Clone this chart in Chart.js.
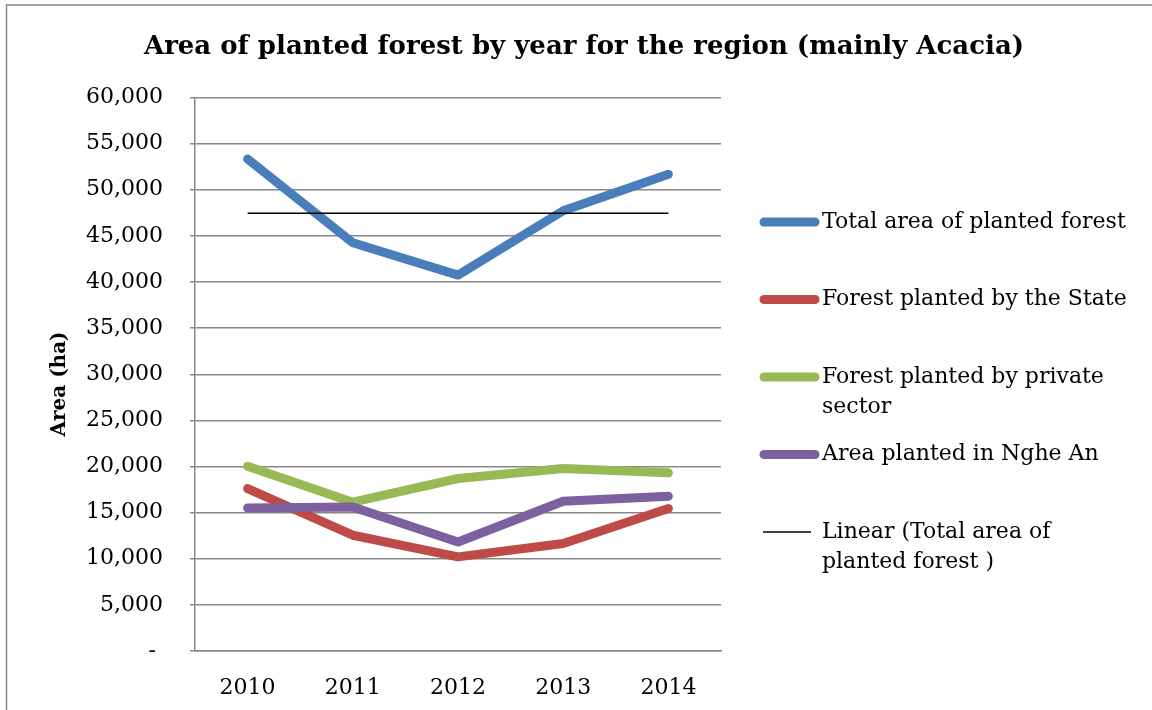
<!DOCTYPE html>
<html>
<head>
<meta charset="utf-8">
<script src="https://cdn.jsdelivr.net/npm/chart.js@4"></script>
<style>
  body { margin: 0; background: #fff; }
  canvas { display: block; }
</style>
</head>
<body>
<canvas id="forestChart" width="1152" height="710"></canvas>
<script>
// data
const years = ['2010', '2011', '2012', '2013', '2014'];
const totalArea = [53330, 44250, 40750, 47720, 51670];
const stateArea = [17610, 12550, 10200, 11650, 15450];
const privateArea = [20030, 16130, 18700, 19780, 19310];
const ngheAnArea = [15510, 15620, 11820, 16240, 16780];
const totalTrend = [47450, 47450, 47450, 47450, 47450];

const seriesNames = [
    'Total area of planted forest',
    'Forest planted by the State',
    'Forest planted by private sector',
    'Area planted in Nghe An',
    'Linear (Total area of planted forest )'
];
// how the legend wraps each name
const legendLines = [
    ['Total area of planted forest'],
    ['Forest planted by the State'],
    ['Forest planted by private', 'sector'],
    ['Area planted in Nghe An'],
    ['Linear (Total area of', 'planted forest )']
];
const seriesColors = ['#4a7ebb', '#be4b48', '#98b954', '#7d60a0', '#000000'];

const chartTitle = 'Area of planted forest by year for the region (mainly Acacia)';
const yTitle = 'Area (ha)';

const serif = "'DejaVu Serif', serif";
const gridGray = '#878787';

// title, axis title, legend and outer frame
const decorations = {
    id: 'decorations',
    beforeDraw(chart) {
        const ctx = chart.ctx;
        ctx.save();
        ctx.fillStyle = '#fff';
        ctx.fillRect(0, 0, chart.width, chart.height);
        ctx.strokeStyle = gridGray;
        ctx.lineWidth = 1.5;
        ctx.strokeRect(6.5, 5, 1300, 900);
        ctx.restore();
    },
    afterDraw(chart) {
        const ctx = chart.ctx;
        ctx.save();
        ctx.fillStyle = '#000';
        ctx.textBaseline = 'middle';

        ctx.font = 'bold 26px ' + serif;
        ctx.textAlign = 'center';
        ctx.fillText(chartTitle, 584, 47);

        ctx.save();
        ctx.translate(60, 384);
        ctx.rotate(-Math.PI / 2);
        ctx.font = 'bold 20px ' + serif;
        ctx.fillText(yTitle, 0, 0);
        ctx.restore();

        ctx.font = '22px ' + serif;
        ctx.textAlign = 'left';
        let y = 222;
        legendLines.forEach((lines, i) => {
            ctx.beginPath();
            if (i === 4) {
                ctx.lineWidth = 1.5;
                ctx.lineCap = 'butt';
                ctx.moveTo(763, y);
                ctx.lineTo(811, y);
            } else {
                ctx.lineWidth = 9;
                ctx.lineCap = 'round';
                ctx.moveTo(764, y);
                ctx.lineTo(815, y);
            }
            ctx.strokeStyle = seriesColors[i];
            ctx.stroke();
            lines.forEach((t, j) => ctx.fillText(t, 822, y + j * 30.5));
            y += 77.5;
        });
        ctx.restore();
    }
};

function lineSet(label, data, color, order) {
    return {
        label: label,
        data: data,
        borderColor: color,
        backgroundColor: color,
        borderWidth: 9,
        borderCapStyle: 'round',
        borderJoinStyle: 'round',
        pointRadius: 0,
        tension: 0,
        order: order
    };
}

const ctx = document.getElementById('forestChart').getContext('2d');
new Chart(ctx, {
    type: 'line',
    data: {
        labels: years,
        datasets: [
            lineSet(seriesNames[0], totalArea, seriesColors[0], 4),
            lineSet(seriesNames[1], stateArea, seriesColors[1], 3),
            lineSet(seriesNames[2], privateArea, seriesColors[2], 2),
            lineSet(seriesNames[3], ngheAnArea, seriesColors[3], 1),
            {
                label: seriesNames[4],
                data: totalTrend,
                borderColor: '#000',
                borderWidth: 1.5,
                pointRadius: 0,
                order: 0
            }
        ]
    },
    options: {
        responsive: false,
        animation: false,
        layout: { padding: { left: 0, right: 431, top: 97.5, bottom: 0 } },
        plugins: {
            legend: { display: false },
            title: { display: false },
            tooltip: { enabled: false }
        },
        scales: {
            x: {
                offset: true,
                grid: { display: false },
                border: { display: true, color: gridGray, width: 1.5 },
                ticks: {
                    color: '#000',
                    padding: 16,
                    font: { family: serif, size: 22 }
                },
                afterFit: s => { s.height = 59; }
            },
            y: {
                min: 0,
                max: 60000,
                grid: { color: gridGray, lineWidth: 1.5, tickLength: 5, tickColor: gridGray },
                border: { display: true, color: gridGray, width: 1.5 },
                ticks: {
                    stepSize: 5000,
                    color: '#000',
                    padding: 27,
                    font: { family: serif, size: 22 },
                    callback: v => v === 0 ? '- ' : v.toLocaleString('en-US')
                },
                afterFit: s => { s.width = 195; }
            }
        }
    },
    plugins: [decorations]
});
</script>
</body>
</html>
